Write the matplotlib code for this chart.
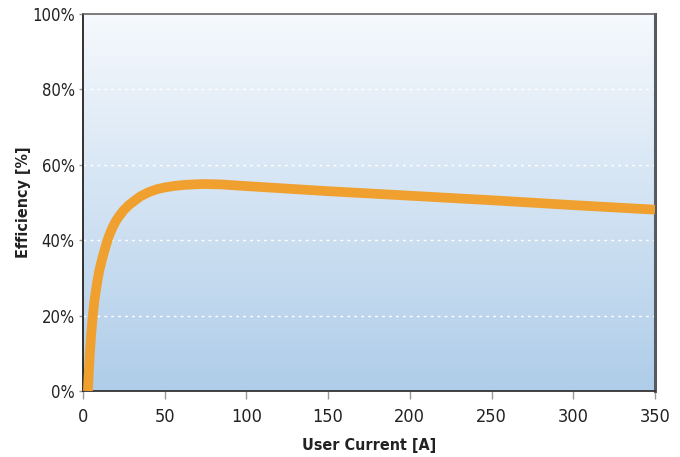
import numpy as np
import matplotlib
matplotlib.use("Agg")
from matplotlib import pyplot as plt
from matplotlib.colors import LinearSegmentedColormap

plt.rcParams['font.family'] = ['DejaVu Sans']
plt.rcParams['font.stretch'] = 'condensed'

# efficiency curve
current = [3, 3.3, 3.7, 4.2, 5, 6, 7, 8, 9, 10, 11, 12, 13.5, 15, 16.5, 18, 20, 22, 25, 28,
           31, 35, 40, 45, 50, 56, 63, 73, 84, 93, 100, 150, 200, 250, 300, 350]
efficiency = [0, 3, 6, 10, 15, 20, 24, 27, 29.7, 32, 33.8, 35.5, 37.8, 40, 41.8, 43.3, 45,
              46.3, 48, 49.3, 50.3, 51.6, 52.7, 53.5, 54.0, 54.4, 54.7, 54.9, 54.8, 54.55,
              54.35, 53.0, 51.8, 50.6, 49.3, 48.1]

x_ticks = [0, 50, 100, 150, 200, 250, 300, 350]
y_ticks = [0, 20, 40, 60, 80, 100]
y_labels = ["0%", "20%", "40%", "60%", "80%", "100%"]

fig = plt.figure(figsize=(6.8, 4.57), dpi=100)
ax = fig.add_axes([83 / 680, 66 / 457, 572 / 680, 377 / 457])

# background gradient
cmap = LinearSegmentedColormap.from_list("bg", ["#AFCDE9", "#F6F9FD"])
grad = np.linspace(0, 1, 256).reshape(-1, 1)
ax.imshow(grad, cmap=cmap, aspect="auto", origin="lower",
          extent=[0, 1, 0, 1], transform=ax.transAxes, zorder=0)

for yv in y_ticks[1:-1]:
    ax.axhline(yv, color="white", linestyle=(0, (2, 3)), linewidth=1, zorder=1)

ax.plot(current, efficiency, color="#F0A02E", linewidth=7, solid_capstyle="butt",
        solid_joinstyle="round", zorder=3)

ax.set_xlim(0, 350)
ax.set_ylim(0, 100)
ax.set_xticks(x_ticks)
ax.set_yticks(y_ticks)
ax.set_yticklabels(y_labels)

ax.tick_params(axis="x", length=6, width=1, color="#999999", labelsize=13, pad=6,
               labelcolor="#222222")
ax.tick_params(axis="y", length=3, width=1, color="#999999", labelsize=12, pad=3,
               labelcolor="#222222")

ax.spines["left"].set_color("#222222")
ax.spines["bottom"].set_color("#333333")
ax.spines["left"].set_linewidth(1.3)
ax.spines["bottom"].set_linewidth(1.3)
ax.spines["top"].set_color("#666666")
ax.spines["top"].set_linewidth(1.2)
ax.spines["right"].set_color("#555b62")
ax.spines["right"].set_linewidth(2.2)

ax.set_xlabel("User Current [A]", fontsize=11.5, fontweight="bold", color="#222222",
              labelpad=9)
ax.set_ylabel("Efficiency [%]", fontsize=11.5, fontweight="bold", color="#222222",
              labelpad=1)

fig.savefig("out.png", dpi=100)
